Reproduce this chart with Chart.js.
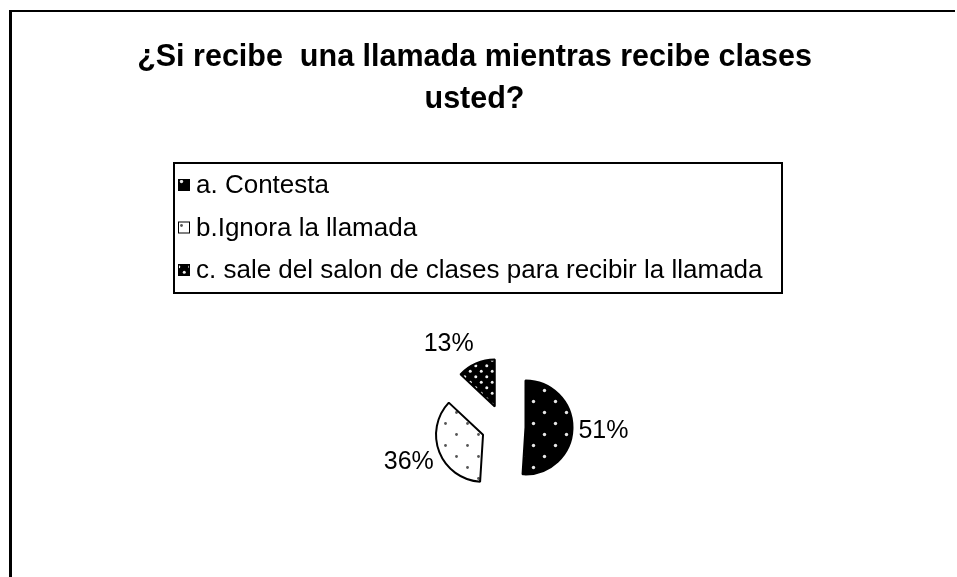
<!DOCTYPE html>
<html lang="es">
<head>
<meta charset="UTF-8">
<title>¿Si recibe una llamada mientras recibe clases usted?</title>
<script src="https://cdn.jsdelivr.net/npm/chart.js"></script>
<style>
  html, body { margin: 0; padding: 0; background: #fff; }
  #chart { display: block; }
</style>
</head>
<body>
<canvas id="chart" width="957" height="577"></canvas>
<script>
// datos del grafico
const titleLines = ['¿Si recibe  una llamada mientras recibe clases', 'usted?'];
const categories = ['a. Contesta', 'b.Ignora la llamada', 'c. sale del salon de clases para recibir la llamada'];
const values = [51, 36, 13];

const FONT = "'Liberation Sans', Arial, sans-serif";
const EXPLODE = 22;      // separacion de cada porcion
const PIE_RADIUS = 47;
const PIE_SHIFT = 58;    // el pastel esta a la derecha del centro del titulo

Chart.defaults.font.family = FONT;
Chart.defaults.color = '#000';

// rellenos punteados
function dotPattern(bg, dot, step, r) {
    const c = document.createElement('canvas');
    c.width = step;
    c.height = step;
    const g = c.getContext('2d');
    g.fillStyle = bg;
    g.fillRect(0, 0, step, step);
    g.fillStyle = dot;
    [[step / 4, step / 4], [step * 3 / 4, step * 3 / 4]].forEach(p => {
        g.beginPath();
        g.arc(p[0], p[1], r, 0, Math.PI * 2);
        g.fill();
    });
    return g.createPattern(c, 'repeat');
}

const fills = [
    dotPattern('#000', '#e6e6e6', 22, 1.7),
    dotPattern('#fff', '#555', 22, 1.4),
    dotPattern('#000', '#f0f0f0', 11, 1.5)
];

// marco del grafico (lados izquierdo y superior)
const framePlugin = {
    id: 'frame',
    beforeDraw(chart) {
        const ctx = chart.ctx;
        ctx.save();
        ctx.fillStyle = '#fff';
        ctx.fillRect(0, 0, chart.width, chart.height);
        ctx.fillStyle = '#000';
        ctx.fillRect(9, 10, 3, chart.height - 10);
        ctx.fillRect(9, 10, 946, 2);
        ctx.restore();
    }
};

// mueve el area del pastel sin mover el titulo
const shiftPlugin = {
    id: 'shift',
    afterLayout(chart) {
        chart.chartArea.left += PIE_SHIFT;
        chart.chartArea.width = chart.chartArea.right - chart.chartArea.left;
    }
};

// porciones separadas
const explodePlugin = {
    id: 'explode',
    afterDatasetUpdate(chart, args) {
        chart.getDatasetMeta(args.index).data.forEach(arc => {
            const mid = (arc.startAngle + arc.endAngle) / 2;
            arc.x += Math.cos(mid) * EXPLODE;
            arc.y += Math.sin(mid) * EXPLODE;
        });
    }
};

// etiquetas de porcentaje fuera de cada porcion
const labelPlugin = {
    id: 'pctLabels',
    afterDatasetsDraw(chart) {
        const ctx = chart.ctx;
        const data = chart.data.datasets[0].data;
        const total = data.reduce((s, v) => s + v, 0);
        ctx.save();
        ctx.font = '25px ' + FONT;
        ctx.fillStyle = '#000';
        ctx.textBaseline = 'middle';
        chart.getDatasetMeta(0).data.forEach((arc, i) => {
            const mid = (arc.startAngle + arc.endAngle) / 2;
            const dx = Math.cos(mid), dy = Math.sin(mid);
            const d = arc.outerRadius + 6;
            const px = arc.x + dx * d;
            const py = arc.y + dy * d;
            ctx.textAlign = dx > 0.3 ? 'left' : (dx < -0.3 ? 'right' : 'center');
            ctx.fillText(Math.round(data[i] / total * 100) + '%', px, py + dy * 17 + 2);
        });
        ctx.restore();
    }
};

// leyenda con recuadro
const legendPlugin = {
    id: 'boxLegend',
    afterDraw(chart) {
        const ctx = chart.ctx;
        const bg = chart.data.datasets[0].backgroundColor;
        ctx.save();
        ctx.strokeStyle = '#000';
        ctx.lineWidth = 2;
        ctx.strokeRect(174, 163, 608, 130);
        ctx.font = '26px ' + FONT;
        ctx.textBaseline = 'middle';
        ctx.textAlign = 'left';
        chart.data.labels.forEach((label, i) => {
            const y = 185 + i * 42.5;
            ctx.fillStyle = bg[i];
            ctx.fillRect(178, y - 6, 12, 12);
            ctx.lineWidth = 1;
            ctx.strokeRect(178.5, y - 5.5, 11, 11);
            ctx.fillStyle = '#000';
            ctx.fillText(label, 196, y + 1);
        });
        ctx.restore();
    }
};

new Chart(document.getElementById('chart'), {
    type: 'pie',
    data: {
        labels: categories,
        datasets: [{
            data: values,
            backgroundColor: fills,
            borderColor: '#000',
            borderWidth: 2
        }]
    },
    options: {
        responsive: false,
        animation: false,
        radius: PIE_RADIUS,
        layout: { padding: { left: 0, right: 8, top: 0, bottom: 20 } },
        events: [],
        plugins: {
            legend: { display: false },
            tooltip: { enabled: false },
            title: {
                display: true,
                text: titleLines,
                color: '#000',
                font: { size: 30.5, weight: 'bold', lineHeight: 1.4 },
                padding: { top: 36, bottom: 175 }
            }
        }
    },
    plugins: [framePlugin, shiftPlugin, explodePlugin, labelPlugin, legendPlugin]
});
</script>
</body>
</html>
